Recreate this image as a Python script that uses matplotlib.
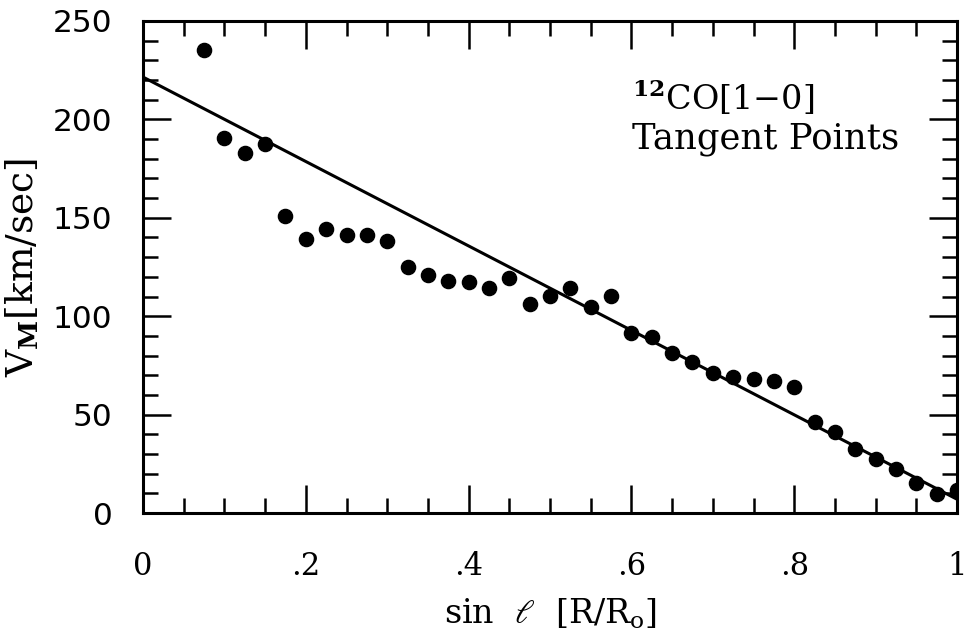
import numpy as np
import matplotlib
matplotlib.use("Agg")
import matplotlib.pyplot as plt
from matplotlib.ticker import MultipleLocator, FuncFormatter

# CO tangent-point velocities vs sin(l)
sin_l = [0.075, 0.100, 0.125, 0.150, 0.175, 0.200, 0.225, 0.250, 0.275, 0.300,
         0.325, 0.350, 0.375, 0.400, 0.425, 0.450, 0.475, 0.500, 0.525, 0.550,
         0.575, 0.600, 0.625, 0.650, 0.675, 0.700, 0.725, 0.750, 0.775, 0.800,
         0.825, 0.850, 0.875, 0.900, 0.925, 0.950, 0.975, 1.000]
v_max = [235.2, 190.4, 183.1, 187.3, 150.9, 139.2, 144.5, 141.1, 141.1, 138.4,
         124.8, 120.9, 118.0, 117.2, 114.2, 119.2, 106.2, 110.3, 114.2, 104.5,
         110.3, 91.3, 89.3, 81.5, 76.7, 71.0, 68.9, 67.9, 67.1, 64.0,
         46.1, 41.3, 32.4, 27.3, 22.5, 15.4, 9.5, 11.7]

# linear fit drawn across the panel
fit_intercept = 221.5
fit_slope = -214.5

plt.rcParams["mathtext.fontset"] = "dejavuserif"

fig = plt.figure(figsize=(9.71, 6.38), dpi=100)
ax = fig.add_axes([0.1473, 0.1959, 0.8383, 0.7712])

xs = np.array([0.0, 1.0])
ax.plot(xs, fit_intercept + fit_slope * xs, color="black", lw=2.2)
ax.plot(sin_l, v_max, "o", color="black", ms=10.2, clip_on=True)

ax.set_xlim(0, 1)
ax.set_ylim(0, 250)

ax.xaxis.set_major_locator(MultipleLocator(0.2))
ax.xaxis.set_minor_locator(MultipleLocator(0.05))
ax.yaxis.set_major_locator(MultipleLocator(50))
ax.yaxis.set_minor_locator(MultipleLocator(10))

def frac_fmt(v, pos):
    if abs(v) < 1e-9:
        return "0"
    if abs(v - 1) < 1e-9:
        return "1"
    return ("%.1f" % v).lstrip("0")

ax.xaxis.set_major_formatter(FuncFormatter(frac_fmt))

ax.tick_params(which="both", direction="in", top=True, right=True, width=1.8)
ax.tick_params(which="major", length=20)
ax.tick_params(which="minor", length=10.5)
ax.tick_params(axis="x", which="major", pad=27)
ax.tick_params(axis="y", which="major", pad=22)

for lab in ax.get_xticklabels():
    lab.set_fontfamily("DejaVu Serif")
    lab.set_fontsize(22)
for lab in ax.get_yticklabels():
    lab.set_fontfamily("DejaVu Sans")
    lab.set_fontsize(22.5)

for sp in ax.spines.values():
    sp.set_linewidth(2.2)

ax.set_xlabel(r"sin  $\ell$  [R/R$_{\rm o}$]", fontfamily="DejaVu Serif",
              fontsize=24, labelpad=11)
ax.set_ylabel(r"V$_{\bf M}$[km/sec]", fontfamily="DejaVu Serif",
              fontsize=27, labelpad=8)
ax.yaxis.set_label_coords(-0.125, 0.5)

ax.text(0.6007, 0.819, r"$^{\bf 12}$CO[1$-$0]", transform=ax.transAxes,
        fontfamily="DejaVu Serif", fontsize=24, ha="left", va="baseline")
ax.text(0.6007, 0.740, "Tangent Points", transform=ax.transAxes,
        fontfamily="DejaVu Serif", fontsize=25.5, ha="left", va="baseline")

fig.savefig("out.png", dpi=100)
